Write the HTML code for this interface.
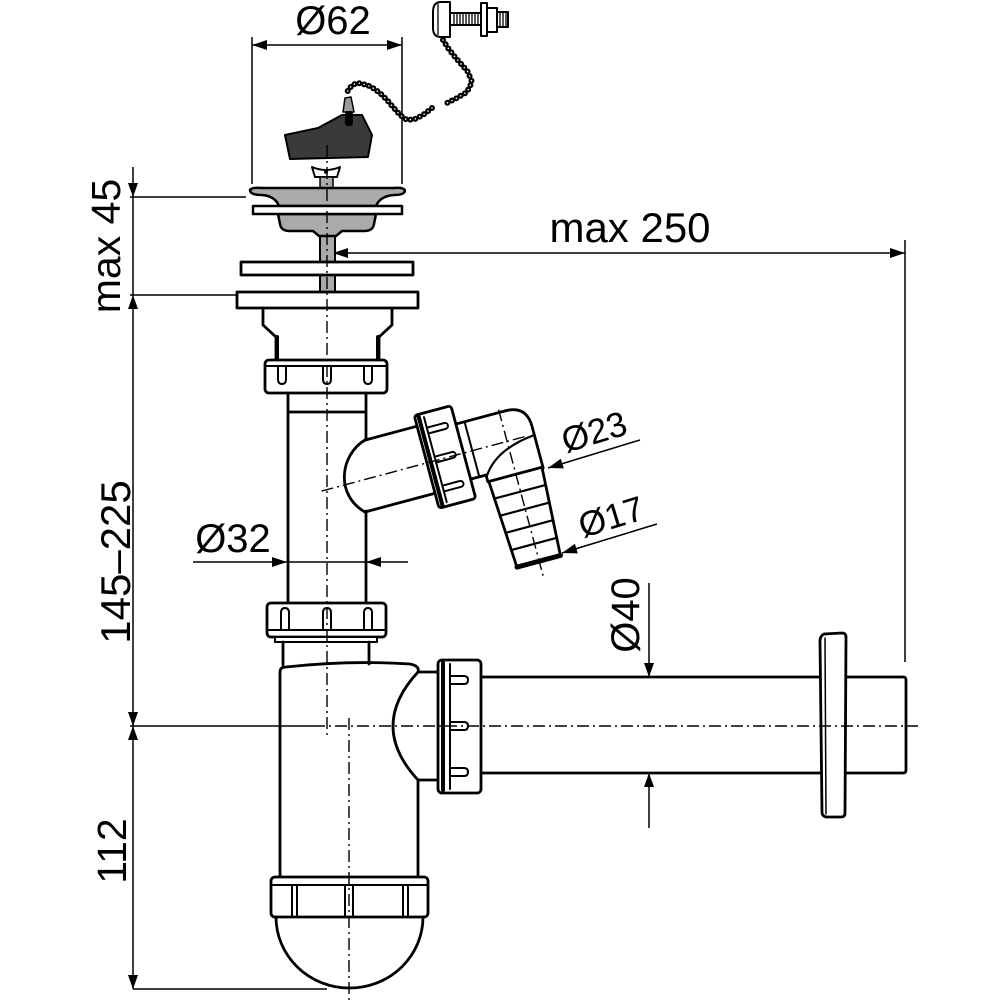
<!DOCTYPE html>
<html><head><meta charset="utf-8">
<style>
html,body{margin:0;padding:0;background:#fff;}
svg{display:block;}
text{font-family:"Liberation Sans",sans-serif;fill:#000;stroke:none;}
</style></head><body>
<svg width="1000" height="1000" viewBox="0 0 1000 1000" xmlns="http://www.w3.org/2000/svg">
<rect width="1000" height="1000" fill="#fff"/>

<!-- ===== Dimension lines ===== -->
<g fill="none" stroke="#000" stroke-width="1.5">
  <path d="M252,37 V184 M402,37 V184 M252,45 H402"/>
  <path d="M133,167 V989"/>
  <path d="M130,197 H246 M130,295 H237 M130,726 H313 M133,989 H327"/>
  <path d="M333,253 H905 M905,240 V662"/>
  <path d="M193,562 H408"/>
  <path d="M649,583 V677 M649,773 V828"/>
  <path d="M548,468 L640,440 M562,553 L657,524"/>
</g>
<g fill="#000" stroke="none">
  <polygon points="252,45 267,40 267,50"/>
  <polygon points="402,45 387,40 387,50"/>
  <polygon points="133,197 128,183 138,183"/>
  <polygon points="133,295 128,309 138,309"/>
  <polygon points="133,726 128,712 138,712"/>
  <polygon points="133,726 128,740 138,740"/>
  <polygon points="133,989 128,975 138,975"/>
  <polygon points="333,253 348,248 348,258"/>
  <polygon points="905,253 890,248 890,258"/>
  <polygon points="287,562 272,557 272,567"/>
  <polygon points="366,562 381,557 381,567"/>
  <polygon points="649,677 644,663 654,663"/>
  <polygon points="649,773 644,787 654,787"/>
  <polygon points="548,468 563.8,468.4 560.8,458.8"/>
  <polygon points="562,553 577.8,553.4 574.9,543.8"/>
</g>

<!-- ===== Texts ===== -->
<text x="333" y="34" font-size="40" text-anchor="middle">Ø62</text>
<text x="630" y="242" font-size="42" text-anchor="middle">max 250</text>
<text transform="translate(120,246) rotate(-90)" font-size="41" text-anchor="middle">max 45</text>
<text transform="translate(130,562) rotate(-90)" font-size="42" text-anchor="middle">145–225</text>
<text transform="translate(126,851) rotate(-90)" font-size="41" text-anchor="middle">112</text>
<text x="233" y="552" font-size="40" text-anchor="middle">Ø32</text>
<text transform="translate(639,615) rotate(-90)" font-size="40" text-anchor="middle">Ø40</text>
<text transform="translate(566,453) rotate(-17)" font-size="35">Ø23</text>
<text transform="translate(583,538) rotate(-17)" font-size="35">Ø17</text>

<!-- ===== Chain screw (top right) ===== -->
<g stroke="#000" stroke-width="2" fill="#fff" stroke-linejoin="round">
  <rect x="450" y="13" width="32" height="12"/>
  <path d="M454,14 V24 M457,14 V24 M460,14 V24 M463,14 V24 M466,14 V24 M469,14 V24 M472,14 V24 M475,14 V24 M478,14 V24" stroke-width="1.3"/>
  <rect x="497" y="12" width="11" height="15"/>
  <path d="M500,13 V26 M503,13 V26 M506,13 V26" stroke-width="1.3"/>
  <rect x="487" y="8" width="10" height="24"/>
  <rect x="481" y="3" width="6" height="33"/>
  <path d="M450,2 L441,2 Q433,2 433,12 L433,28 Q433,37 441,37 L450,37 Z"/>
  <path d="M438,4 V35" stroke-width="1.3"/>
</g>

<!-- ===== Chain ===== -->
<g fill="none" stroke-linecap="round" stroke-linejoin="round">
  <polyline points="443,40 448,48 455,57 462,65 468,72 472,82 467,92 457,98 447,103" stroke="#000" stroke-width="6" stroke-dasharray="0 5"/>
  <polyline points="443,40 448,48 455,57 462,65 468,72 472,82 467,92 457,98 447,103" stroke="#fff" stroke-width="1.6" stroke-dasharray="0 5"/>
  <polyline points="432,108 423,115 415,119 407,120 400,115 393,107 387,100 380,93 373,88 367,85 358,83 352,85 347,92" stroke="#000" stroke-width="6" stroke-dasharray="0 5"/>
  <polyline points="432,108 423,115 415,119 407,120 400,115 393,107 387,100 380,93 373,88 367,85 358,83 352,85 347,92" stroke="#fff" stroke-width="1.6" stroke-dasharray="0 5"/>
</g>

<!-- ===== Plug ===== -->
<g stroke="#000" stroke-linejoin="round">
  <path d="M345,98 L351,97 L354,112 L343,112 Z" fill="#9a9a9a" stroke-width="1.5"/>
  <polygon points="285,135 318,128 342,115 362,115 372,135 368,157 290,159" fill="#3a3a3a" stroke-width="2"/>
  <rect x="345" y="111" width="8" height="15" rx="3" fill="#000" stroke="none"/>
</g>

<!-- ===== Strainer ===== -->
<g stroke="#000" stroke-width="2.5" stroke-linejoin="round">
  <path d="M312,167 Q326,173 340,167 L337,177 L315,177 Z" fill="#fff" stroke-width="2"/>
  <circle cx="326" cy="172" r="2" fill="#000" stroke="none"/>
  <rect x="320" y="177" width="13" height="13" fill="#aaa" stroke-width="1.5"/>
  <path d="M250,190 Q252,187 262,188 L394,188 Q404,187 405,191 Q404,195 394,195 Q380,196 376,206 L279,206 Q275,196 262,195 Q250,195 250,190 Z" fill="#aaa"/>
  <rect x="320" y="229" width="15" height="63" fill="#aaa" stroke-width="2"/>
  <path d="M278,214 L376,214 L374,224 Q373,231 364,231 L342,231 L336,236 L319,236 L313,231 L290,231 Q281,231 280,224 Z" fill="#aaa"/>
  <rect x="253" y="206" width="149" height="8" fill="#fff"/>
  <rect x="241" y="262" width="172" height="13" fill="#fff" stroke-width="2.8"/>
  <rect x="237" y="292" width="181" height="16" fill="#fff" stroke-width="2.8"/>
</g>

<!-- ===== Main body ===== -->
<g fill="none" stroke="#000" stroke-width="2.8" stroke-linejoin="round" stroke-linecap="round">
  <path d="M263,308 V325 L276,337 V360"/>
  <path d="M392,308 V325 L379,337 V360"/>
  <path d="M277,337 V360 M378,337 V360" stroke-width="4"/>
  <!-- nut 1 -->
  <rect x="265" y="360" width="122" height="33" rx="4" fill="#fff"/>
  <path d="M266,366 H386" stroke-width="2"/>
  <path d="M278,366 V379 Q278,384 282,384 Q286,384 286,379 V366 M323,366 V379 Q323,384 327,384 Q331,384 331,379 V366 M364,366 V379 Q364,384 368,384 Q372,384 372,379 V366" stroke-width="2"/>
  <!-- vertical pipe -->
  <path d="M288,393 V603 M366,393 V440 M366,511 V603 M288,412 H366"/>
  <!-- tee curve -->
  <path d="M365,440 C340,455 335,495 365,512"/>
  <!-- nut 2 -->
  <rect x="267" y="603" width="119" height="34" rx="4" fill="#fff"/>
  <path d="M268,630 H385" stroke-width="2"/>
  <path d="M281,630 V613 Q281,608 285,608 Q289,608 289,613 V630 M323,630 V613 Q323,608 327,608 Q331,608 331,613 V630 M364,630 V613 Q364,608 368,608 Q372,608 372,613 V630" stroke-width="2"/>
  <rect x="275" y="637" width="102" height="5" fill="#fff" stroke-width="2"/>
  <path d="M283,642 V665 M369,642 V664"/>
  <!-- bottle -->
  <path d="M280,877 V672 Q280,667 286,667 Q350,660 410,664 Q420,666 418,672"/>
  <path d="M418,672 Q368,726 418,780 V877"/>
  <path d="M418,672 H438 M418,780 H438"/>
  <!-- bottom nut -->
  <rect x="271" y="877" width="157" height="40" rx="4" fill="#fff"/>
  <path d="M272,885 H427" stroke-width="2"/>
  <path d="M292,885 V916 M297,885 V916 M345,885 V916 M353,885 V916 M403,885 V916 M408,885 V916" stroke-width="2"/>
  <path d="M276,917 A73.5,71 0 0 0 423,917"/>
  <!-- outlet nut -->
  <rect x="438" y="660" width="43" height="133" rx="4" fill="#fff"/>
  <path d="M443,663 V790" stroke-width="4"/>
  <path d="M450,664 V789" stroke-width="2"/>
  <path d="M450,676 H464 Q468,676 468,680 Q468,684 464,684 H450 M450,722 H464 Q468,722 468,726 Q468,730 464,730 H450 M450,768 H464 Q468,768 468,772 Q468,776 464,776 H450" stroke-width="2"/>
  <!-- outlet pipe -->
  <path d="M481,677 H822 M845,677 H903 Q906,677 906,680 V770 Q906,773 903,773 H845 M481,773 H822"/>
  <path d="M824,634 L842,633 Q846,633 846,637 L845,813 Q845,817 841,817 L826,817 Q822,816 822,812 L820,641 Q820,636 824,634 Z" fill="#fff"/>
  <path d="M825,638 L826,814" stroke-width="1.5"/>
</g>

<!-- ===== Side branch ===== -->
<g transform="translate(445,457) rotate(-15)" fill="none" stroke="#000" stroke-width="2.8" stroke-linejoin="round" stroke-linecap="round">
  <path d="M-73,-37 H-19 M-91.5,32.4 H-19"/>
  <!-- elbow -->
  <path d="M19,-29 H70 Q92,-29 92,-7 V36"/>
  <path d="M19,28 H35 V35"/>
  <path d="M28,-29 V28" stroke-width="2"/>
  <path d="M35,30 Q50,6 91,2" stroke-width="2.2"/>
  <!-- barb -->
  <path d="M36,35 H91 L86,125 H41 Z" fill="#fff"/>
  <path d="M37,53 H90 M38,71 H89 M39,89 H88 M40,107 H87" stroke-width="2.2"/>
  <path d="M41,125 H86" stroke-width="5"/>
  <!-- nut -->
  <rect x="-19" y="-48" width="38" height="96" rx="3" fill="#fff"/>
  <path d="M-15,-46 V46" stroke-width="4"/>
  <path d="M-10,-44 V44" stroke-width="2"/>
  <path d="M-10,-33 H8 A3,3 0 0 1 8,-27 H-10 M-10,-3 H8 A3,3 0 0 1 8,3 H-10 M-10,27 H8 A3,3 0 0 1 8,33 H-10" stroke-width="2"/>
  <!-- centerlines -->
  <path d="M-128,1 H86" stroke-width="1.4" stroke-dasharray="12 4 2 4" stroke-linecap="butt"/>
  <path d="M64,-32 V142" stroke-width="1.4" stroke-dasharray="12 4 2 4" stroke-linecap="butt"/>
</g>

<!-- ===== Centerlines ===== -->
<g fill="none" stroke="#000" stroke-width="1.4" stroke-dasharray="12 4 2 4">
  <path d="M327,145 V735"/>
  <path d="M349,718 V1000"/>
  <path d="M313,726 H918"/>
</g>
</svg>
</body></html>
